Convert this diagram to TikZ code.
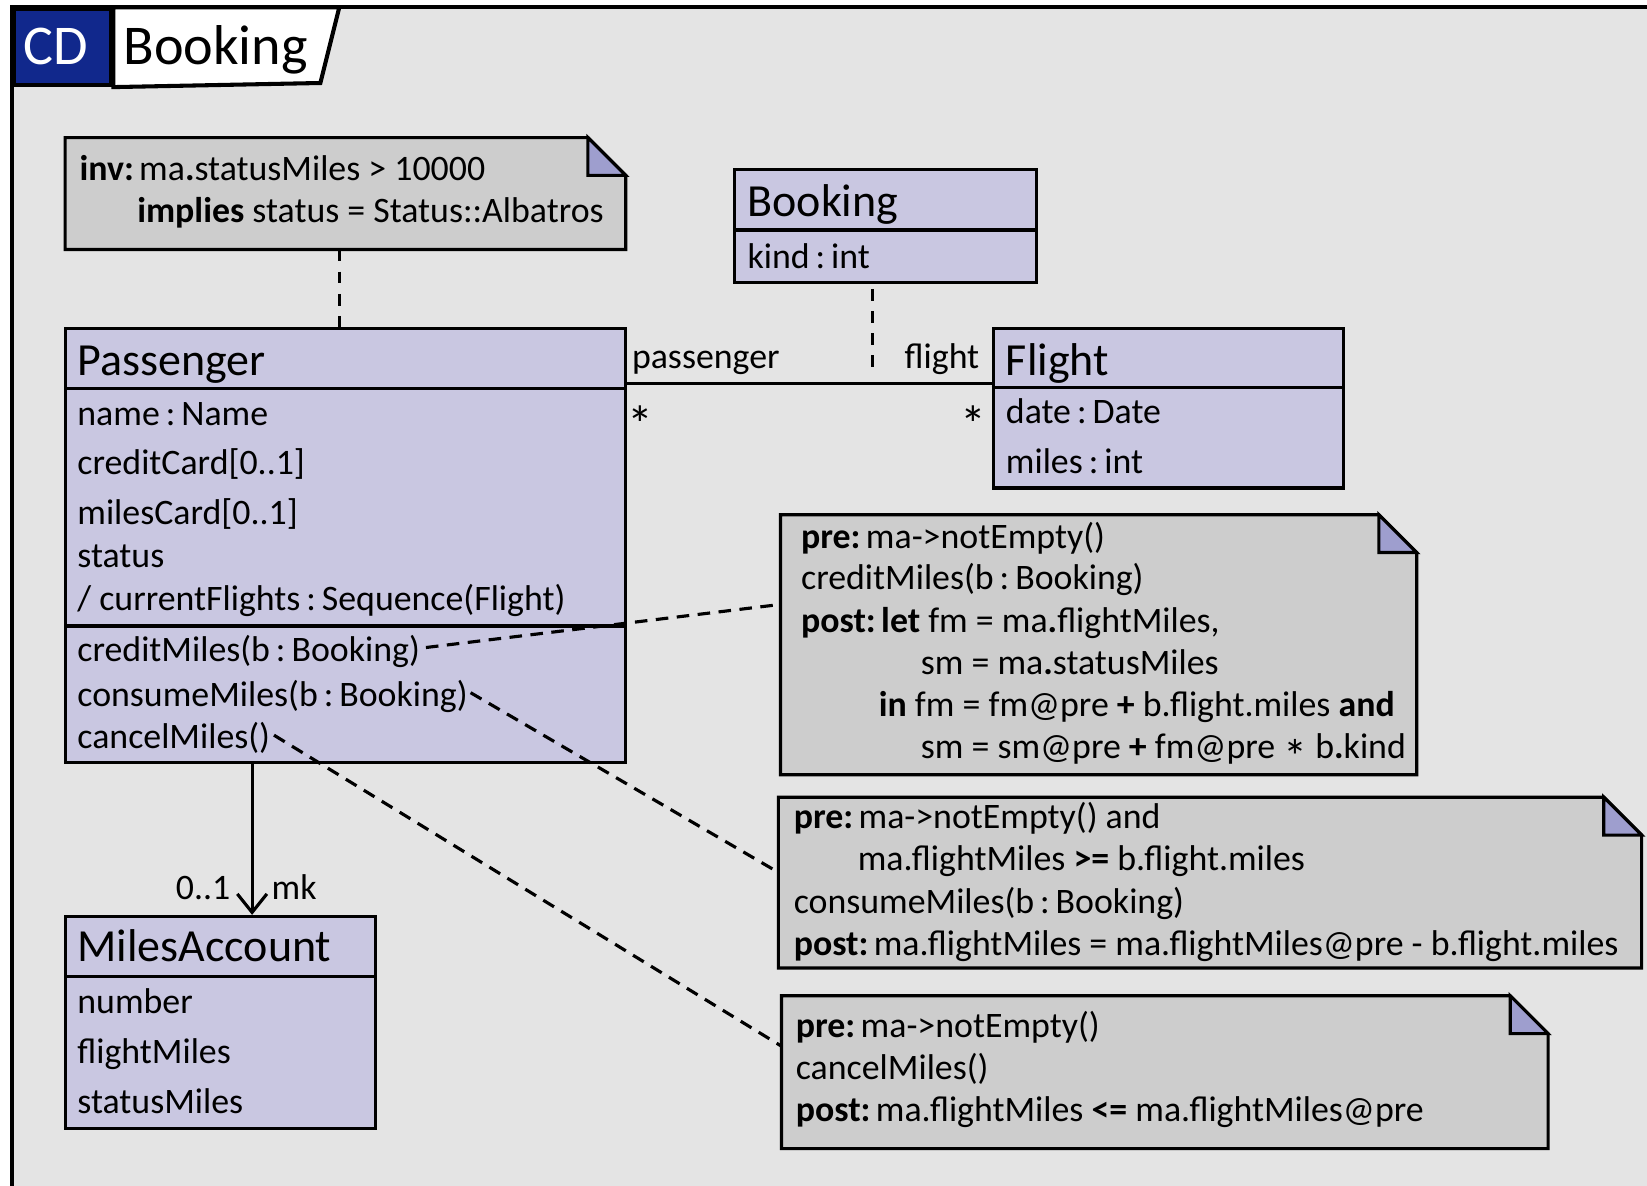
\documentclass[tikz,border=0pt]{standalone}
\usepackage{fontspec}
\setmainfont{Carlito}
\usetikzlibrary{calc,arrows.meta}
\definecolor{bggray}{RGB}{228,228,228}
\definecolor{classfill}{RGB}{201,199,225}
\definecolor{notegray}{RGB}{205,205,205}
\definecolor{foldblue}{RGB}{158,158,206}
\definecolor{cdblue}{RGB}{17,40,140}
\newcommand{\umlnote}[1]{%
  \draw[boxline, fill=notegray] (#1.north west) -- ($(#1.north east)+(-36,0)$) -- ($(#1.north east)+(0,36)$) -- (#1.south east) -- (#1.south west) -- cycle;
  \draw[boxline, fill=foldblue] ($(#1.north east)+(-36,0)$) -- ($(#1.north east)+(-36,36)$) -- ($(#1.north east)+(0,36)$) -- cycle;}
\newcommand{\kw}[1]{\textbf{#1}\hspace{0.15em}}
\newcommand{\ofty}{\,:\,}
\newcommand{\midstar}{\raisebox{-4.2pt}{\fontsize{13}{13}\selectfont *}}
\begin{document}
\begin{tikzpicture}[x=0.01cm,y=-0.01cm,
  boxline/.style={line width=0.85pt},
  framebox/.style={line width=1.1pt},
  classbox/.style={draw, line width=0.85pt, fill=classfill, anchor=north west, inner sep=0pt},
  notebox/.style={anchor=north west, inner sep=0pt},
  txt/.style={anchor=base west, inner sep=0pt, font=\fontsize{9.7}{11}\selectfont},
  txtr/.style={anchor=base east, inner sep=0pt, font=\fontsize{9.7}{11}\selectfont},
  multstar/.style={anchor=base, inner sep=0pt, font=\fontsize{14}{15}\selectfont},
  ttl/.style={anchor=base west, inner sep=0pt, font=\fontsize{12.45}{14}\selectfont},
  hdr/.style={anchor=base west, inner sep=0pt, font=\fontsize{15.2}{17}\selectfont},
  dashline/.style={line width=0.85pt, dash pattern=on 3.4pt off 2.3pt},
  vdashline/.style={line width=0.85pt, dash pattern=on 3.2pt off 2.8pt}]
\useasboundingbox (0,0) rectangle (1568,1129);
\clip (0,0) rectangle (1568,1129);
\fill[white] (0,0) rectangle (1568,1129);
% frame
\draw[framebox, fill=bggray] (11,7) rectangle (1620,1180);
\node[draw, framebox, fill=cdblue, anchor=north west, inner sep=0pt, minimum width=0.93cm, minimum height=0.72cm] (cdbox) at (11,7) {};
\draw[framebox, fill=white] (cdbox.north east) -- (323,7) -- (305,79) -- (cdbox.south east) -- cycle;
\node[hdr, text=white] (cdlabel) at (22,61) {CD};
\node[hdr] (title) at (117,61) {Booking};

% invariant note
\node[notebox, minimum width=5.32cm, minimum height=1.05cm] (inv) at (62,131) {};
\umlnote{inv}
\node[txt] (inv1) at (75,172) {\kw{inv:}ma\textbf{.}statusMiles > 10000};
\node[txt] (inv2) at (130,212) {\textbf{implies} status = Status::Albatros};

% Booking class
\node[classbox, minimum width=2.87cm, minimum height=1.07cm] (booking) at (698,160) {};
\draw[boxline] (booking.west |- 0,219) -- (booking.east |- 0,219);
\node[ttl] (bkt) at (711,206) {Booking};
\node[txt] (bka) at (711,256) {kind\ofty int};

% Passenger class
\node[classbox, minimum width=5.33cm, minimum height=4.13cm] (pass) at (61,311) {};
\draw[boxline] (pass.west |- 0,370) -- (pass.east |- 0,370);
\draw[boxline] (pass.west |- 0,596) -- (pass.east |- 0,596);
\node[ttl] (pst) at (73,357) {Passenger};
\node[txt] (pa1) at (73,405) {name\ofty Name};
\node[txt] (pa2) at (73,452) {creditCard[0..1]};
\node[txt] (pa3) at (73,499) {milesCard[0..1]};
\node[txt] (pa4) at (73,540) {status};
\node[txt] (pa5) at (73,581) {/ currentFlights\ofty Sequence(Flight)};
\node[txt] (opCredit) at (73,630) {creditMiles(b\ofty Booking)};
\node[txt] (opConsume) at (73,673) {consumeMiles(b\ofty Booking)};
\node[txt] (opCancel) at (73,713) {cancelMiles()};

% Flight class
\node[classbox, minimum width=3.33cm, minimum height=1.52cm] (flight) at (944,311) {};
\draw[boxline] (flight.west |- 0,369) -- (flight.east |- 0,369);
\node[ttl] (flt) at (957,357) {Flight};
\node[txt] (fa1) at (957,403) {date\ofty Date};
\node[txt] (fa2) at (957,451) {miles\ofty int};

% MilesAccount class
\node[classbox, minimum width=2.95cm, minimum height=2.02cm] (miles) at (61,871) {};
\draw[boxline] (miles.west |- 0,930) -- (miles.east |- 0,930);
\node[ttl] (mat) at (73,915) {MilesAccount};
\node[txt] (ma1) at (73,965) {number};
\node[txt] (ma2) at (73,1012) {flightMiles};
\node[txt] (ma3) at (73,1060) {statusMiles};

% association Passenger -- Flight
\coordinate (asy) at (0,365);
\draw[boxline] (pass.east |- asy) -- (flight.west |- asy);
\node[txt] (rolep) at (601,351) {passenger};
\node[txtr] (rolef) at (933,351) {flight};
\node[multstar] (mulp) at (610,421) {*};
\node[multstar] (mulf) at (927,421) {*};

% association class link
\coordinate (bkx) at (831,356);
\draw[vdashline] ($(booking.south -| bkx)+(0,5)$) -- (bkx);

% invariant link
\coordinate (ivx) at (323,0);
\draw[vdashline] (inv.south -| ivx) -- (pass.north -| ivx);

% directed association Passenger -> MilesAccount
\coordinate (arx) at (240,0);
\draw[boxline, -{Straight Barb[length=5pt, width=8pt, line width=0.85pt]}] (pass.south -| arx) -- (miles.north -| arx);
\node[txtr] (mulm) at (220,856) {0..1};
\node[txt] (rolem) at (258,856) {mk};

% note 1
\node[notebox, minimum width=6.04cm, minimum height=2.46cm] (n1) at (743,490) {};
\umlnote{n1}
\node[txt] (n1a) at (762,522) {\kw{pre:}ma->notEmpty()};
\node[txt] (n1b) at (762,561) {creditMiles(b\ofty Booking)};
\node[txt] (n1c) at (762,602) {\kw{post:}\textbf{let} fm = ma\textbf{.}flightMiles,};
\node[txt] (n1d) at (876,642) {sm = ma\textbf{.}statusMiles};
\node[txt] (n1e) at (836,682) {\textbf{in} fm = fm@pre \textbf{+} b.flight.miles \textbf{and}};
\node[txt] (n1f) at (876,722) {sm = sm@pre \textbf{+} fm@pre \midstar{} b\textbf{.}kind};

% note 2
\node[notebox, minimum width=8.20cm, minimum height=1.61cm] (n2) at (741,759) {};
\umlnote{n2}
\node[txt] (n2a) at (755,789) {\kw{pre:}ma->notEmpty() and};
\node[txt] (n2b) at (816,829) {ma.flightMiles \textbf{>=} b.flight.miles};
\node[txt] (n2c) at (755,870) {consumeMiles(b\ofty Booking)};
\node[txt] (n2d) at (755,910) {\kw{post:}ma.flightMiles = ma.flightMiles@pre - b.flight.miles};

% note 3
\node[notebox, minimum width=7.28cm, minimum height=1.44cm] (n3) at (744,948) {};
\umlnote{n3}
\node[txt] (n3a) at (757,988) {\kw{pre:}ma->notEmpty()};
\node[txt] (n3b) at (757,1028) {cancelMiles()};
\node[txt] (n3c) at (757,1068) {\kw{post:}ma.flightMiles \textbf{<=} ma.flightMiles@pre};

% note links
\draw[dashline] ($(opCredit.east)+(5,-4)$) -- ($(n1.north west)!0.345!(n1.south west)$);
\draw[dashline] ($(opConsume.east)+(2,-4)$) -- ($(n2.north west)!0.44!(n2.south west)$);
\draw[dashline] ($(opCancel.east)+(3,-3)$) -- ($(n3.north west)!0.33!(n3.south west)$);
\end{tikzpicture}
\end{document}
